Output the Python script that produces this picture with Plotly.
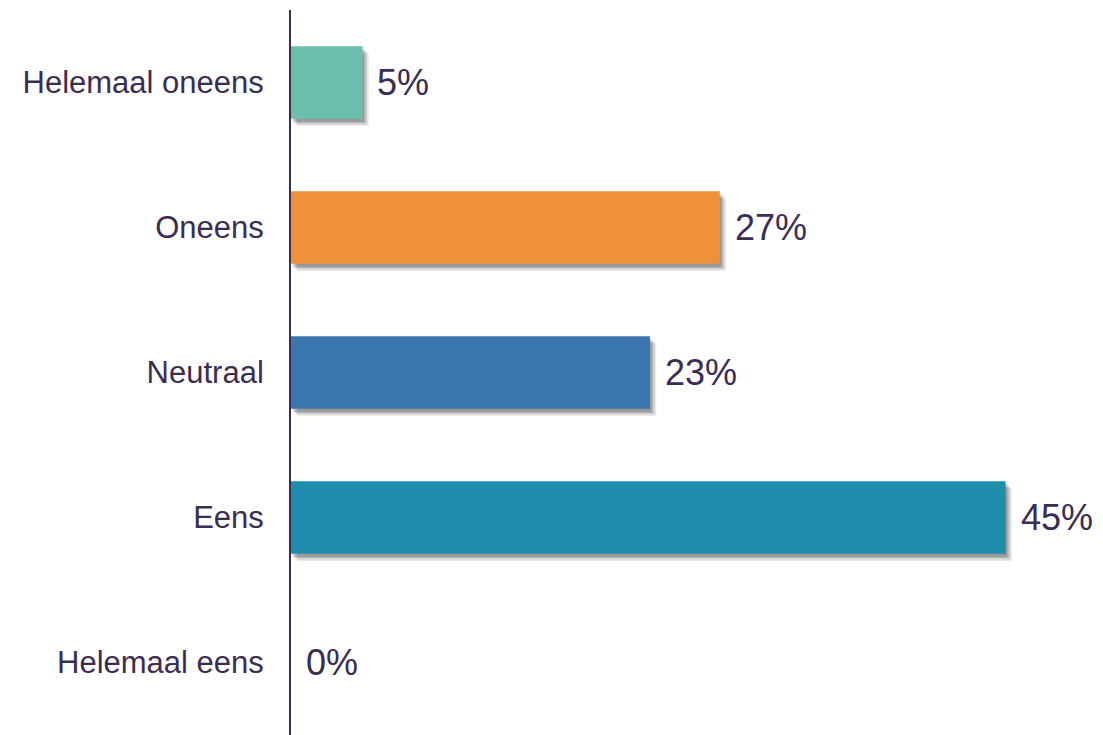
import plotly.graph_objects as go

categories = ["Helemaal oneens", "Oneens", "Neutraal", "Eens", "Helemaal eens"]
values = [4.5, 27.0, 22.6, 45.0, 0.0]
value_labels = ["5%", "27%", "23%", "45%", "0%"]
bar_colors = ["#6DBFAD", "#F0903B", "#3A75AD", "#1F8EAD", "#1F8EAD"]

TEXT = "#3B2D52"
FONT = "Liberation Sans, Arial, sans-serif"

fig = go.Figure()

# soft drop shadows (layered to suggest blur)
for dx, dy, a in [(0.40, 0.050, 0.08), (0.30, 0.040, 0.11), (0.20, 0.030, 0.14), (0.10, 0.020, 0.14)]:
    fig.add_trace(go.Bar(
        y=categories, x=values, base=[dx if v > 0 else 0 for v in values],
        orientation="h", width=0.5, offset=-0.25 + dy,
        marker=dict(color=f"rgba(0,0,0,{a})", line=dict(width=0)),
        hoverinfo="skip", showlegend=False,
    ))

fig.add_trace(go.Bar(
    y=categories, x=values, orientation="h", width=0.5, offset=-0.25,
    marker=dict(color=bar_colors, line=dict(width=0)),
    showlegend=False,
))

for c, v, t in zip(categories, values, value_labels):
    fig.add_annotation(x=v, y=c, text=t, showarrow=False, xanchor="left",
                       yanchor="middle", xshift=13,
                       font=dict(size=36, color=TEXT, family=FONT))

fig.update_layout(
    width=1095, height=727,
    margin=dict(l=283, r=10, t=2, b=0),
    paper_bgcolor="white", plot_bgcolor="white",
    barmode="overlay",
    font=dict(family=FONT, color=TEXT),
)
fig.update_xaxes(range=[0, 50.5], visible=False, showgrid=False, zeroline=False)
fig.update_yaxes(
    categoryorder="array", categoryarray=categories, autorange="reversed",
    showline=True, linecolor="#3B2D52", linewidth=2, showgrid=False,
    zeroline=False, ticks="", ticklabelstandoff=19,
    tickfont=dict(size=31, color=TEXT, family=FONT),
)

fig.write_html("out.html")
